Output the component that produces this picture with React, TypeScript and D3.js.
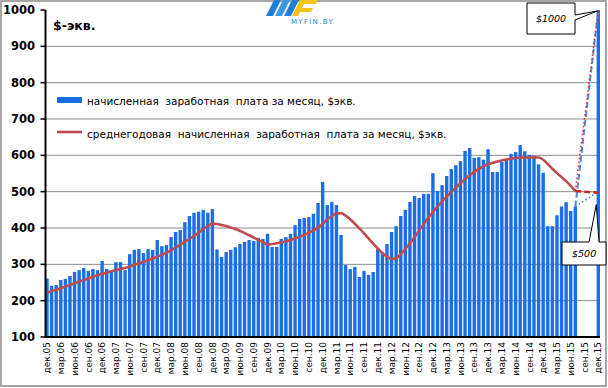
import React from 'react';
import * as d3 from 'd3';

const W = 608;
const H = 388;

// monthly average accrued wage, $ equivalent, index 0 = Dec 2005
const wage = [
  261, 241, 243, 257, 260, 268, 279, 284, 290, 282, 287, 284,
  309, 287, 282, 306, 306, 284, 328, 340, 342, 331, 342, 340,
  367, 350, 353, 375, 389, 394, 416, 433, 442, 445, 450, 442,
  452, 341, 320, 334, 340, 347, 356, 362, 367, 364, 373, 370,
  384, 348, 348, 370, 375, 384, 408, 425, 428, 430, 439, 469,
  527, 463, 472, 463, 381, 298, 287, 293, 265, 282, 271, 279,
  342, 333, 356, 389, 405, 433, 450, 472, 488, 483, 494, 494,
  551, 502, 518, 543, 562, 573, 584, 612, 620, 593, 595, 588,
  617, 554, 554, 582, 590, 604, 609, 628, 611, 601, 599, 575,
  552, 405, 405, 435, 459, 471, 447, 459,
];
const targetIndex = 120;
const targetWage = 1000;

// 12-month average line at these month indices
const avgIdx = [0, 2, 5, 8, 11, 14, 17, 20, 23, 26, 29, 32, 35, 36, 37, 38, 41, 44, 47, 48, 50, 53, 56, 59, 62, 63, 64, 65, 68, 71, 74, 75, 76, 77, 80, 83, 86, 89, 92, 95, 98, 101, 104, 107, 108, 109, 110, 111, 112, 113, 114, 115];
const avgVal = [222, 230, 243, 257, 270, 281, 290, 303, 316, 332, 354, 378, 405, 412, 411, 408, 397, 380, 361, 355, 358, 367, 381, 401, 433, 440, 441, 434, 399, 357, 321, 315, 317, 328, 375, 428, 473, 511, 545, 570, 583, 591, 594, 594, 588, 576, 563, 551, 540, 529, 516, 502];

// projections
const projStart = 115;
const projWageEnd = [1000, 500];
const projAvgEnd = [1000, 497];

const yTicks = [100, 200, 300, 400, 500, 600, 700, 800, 900, 1000];
const gridValues = [200, 300, 400, 500, 600, 700, 800, 900];
const xLabels = ['дек.05', 'мар.06', 'июн.06', 'сен.06', 'дек.06', 'мар.07', 'июн.07', 'сен.07', 'дек.07', 'мар.08', 'июн.08', 'сен.08', 'дек.08', 'мар.09', 'июн.09', 'сен.09', 'дек.09', 'мар.10', 'июн.10', 'сен.10', 'дек.10', 'мар.11', 'июн.11', 'сен.11', 'дек.11', 'мар.12', 'июн.12', 'сен.12', 'дек.12', 'мар.13', 'июн.13', 'сен.13', 'дек.13', 'мар.14', 'июн.14', 'сен.14', 'дек.14', 'мар.15', 'июн.15', 'сен.15', 'дек.15'];

const legend1 = 'начисленная  заработная  плата за месяц, $экв.';
const legend2 = 'среднегодовая  начисленная  заработная  плата за месяц, $экв.';

const BAR = '#1a6fe6';
const RED = '#bf4b4f';

export default function App() {
  const x = d3.scaleLinear().domain([0, 120]).range([47, 598.3]);
  const y = d3.scaleLinear().domain([100, 1000]).range([337, 10]);
  const bw = 3.4;
  const plotL = 45.5;
  const plotR = 600;

  const avgLine = d3
    .line<number>()
    .x((_, i) => x(avgIdx[i]))
    .y((d) => y(d))
    .curve(d3.curveMonotoneX)(avgVal) as string;

  const seg = (a: [number, number], b: [number, number]) =>
    d3.line()([[x(a[0]), y(a[1])], [x(b[0]), y(b[1])]]) as string;

  const lastWage = wage[projStart];
  const lastAvg = avgVal[avgVal.length - 1];
  const font = "'DejaVu Sans', Verdana, sans-serif";

  // callouts
  const c1 = { x0: 527, y0: 3, x1: 575, y1: 34 };
  const c2 = { x0: 562, y0: 242, x1: 606, y1: 265 };
  const tip1: [number, number] = [x(targetIndex) - 1, y(targetWage) + 1];
  const tip2: [number, number] = [x(targetIndex) - 2, y(projWageEnd[1]) + 13];

  return (
    <svg width={W} height={H} style={{ position: 'absolute', left: 0, top: 0, background: '#fff' }} fontFamily={font}>
      <rect x={0} y={0} width={W} height={H} fill="#fff" />
      <rect x={1} y={1} width={W - 3} height={H - 3} fill="none" stroke="#8a8a8a" strokeWidth={1.5} />

      {gridValues.map((v) => (
        <line key={v} x1={plotL} x2={plotR} y1={y(v)} y2={y(v)} stroke="#8c8c8c" strokeWidth={1} />
      ))}

      {wage.map((v, i) => (
        <rect key={i} x={x(i) - bw / 2} y={y(v)} width={bw} height={y(100) - y(v)} fill={BAR} />
      ))}
      <rect x={x(targetIndex) - bw / 2} y={y(targetWage)} width={bw} height={y(100) - y(targetWage)} fill={BAR} />

      <path d={avgLine} fill="none" stroke={RED} strokeWidth={2.6} strokeLinejoin="round" />

      {/* projections */}
      <path d={seg([projStart, lastWage], [targetIndex, projWageEnd[0]])} stroke="#4f8ad6" strokeWidth={2} strokeDasharray="6 3" fill="none" />
      <path d={seg([projStart, lastWage], [targetIndex, projWageEnd[1]])} stroke="#3b7bd8" strokeWidth={1.5} strokeDasharray="1.5 2.5" fill="none" />
      <path d={seg([projStart, lastAvg], [targetIndex, projAvgEnd[0]])} stroke="#e02828" strokeWidth={1.5} strokeDasharray="1.5 2.5" fill="none" />
      <path d={seg([projStart, lastAvg], [targetIndex, projAvgEnd[1]])} stroke="#d42020" strokeWidth={2.5} strokeDasharray="6 3" fill="none" />

      {/* axes */}
      <line x1={plotL} x2={plotL} y1={y(1000)} y2={y(100) + 1} stroke="#000" strokeWidth={2} />
      <line x1={plotL} x2={plotR} y1={y(100)} y2={y(100)} stroke="#000" strokeWidth={2} />
      {yTicks.map((v) => (
        <g key={v}>
          <line x1={plotL - 5} x2={plotL} y1={y(v)} y2={y(v)} stroke="#000" strokeWidth={1.5} />
          <text x={35} y={y(v)} dy="0.36em" textAnchor="end" fontSize={11.5} fontWeight="bold" fill="#000">
            {v}
          </text>
        </g>
      ))}
      {xLabels.map((t, k) => (
        <text
          key={t}
          transform={`translate(${x(k * 3)},${y(100) + 5}) rotate(-90)`}
          textAnchor="end"
          dy="0.35em"
          fontSize={9}
          fill="#000"
        >
          {t}
        </text>
      ))}

      {/* unit label */}
      <text x={53} y={30} fontSize={12.5} fontWeight="bold" fill="#000">$-экв.</text>

      {/* legend */}
      <rect x={57} y={97} width={25} height={6} fill={BAR} />
      <text x={87} y={104.5} fontSize={10.5} fill="#000" style={{ whiteSpace: 'pre' }}>{legend1}</text>
      <line x1={57} x2={82} y1={132} y2={132} stroke={RED} strokeWidth={2.6} />
      <text x={87} y={137.5} fontSize={10.5} fill="#000" style={{ whiteSpace: 'pre' }}>{legend2}</text>

      {/* logo */}
      <g>
        <polygon points="266,16 274,0 281,0 273,16" fill="#1f7fd6" />
        <polygon points="275,16 283,0 290,0 282,16" fill="#3a98e0" />
        <polygon points="284,16 292,0 299,0 291,16" fill="#1f7fd6" />
        <polygon points="292,16 300,0 318,0 316,4 304,4 302,8 313,8 311,12 300,12 298,16" fill="#f6c21c" />
        <text x={291} y={24} fontSize={7} fill="#2a7fd4" letterSpacing={1.3}>MYFIN.BY</text>
      </g>

      {/* callout $1000 */}
      <path
        d={`M${c1.x0},${c1.y0} H${c1.x1} V15 L${tip1[0]},${tip1[1]} L${c1.x1},20 V${c1.y1} H${c1.x0} Z`}
        fill="#fff"
        stroke="#000"
        strokeWidth={1}
      />
      <text x={(c1.x0 + c1.x1) / 2} y={(c1.y0 + c1.y1) / 2} dy="0.35em" textAnchor="middle" fontSize={9.5} fontStyle="italic" fill="#000">
        $1000
      </text>

      {/* callout $500 */}
      <path
        d={`M${c2.x0},${c2.y0} H589 L${tip2[0]},${tip2[1]} L599,${c2.y0} H${c2.x1} V${c2.y1} H${c2.x0} Z`}
        fill="#fff"
        stroke="#000"
        strokeWidth={1}
      />
      <text x={572} y={(c2.y0 + c2.y1) / 2} dy="0.35em" fontSize={9.5} fontStyle="italic" fill="#000">
        $500
      </text>
    </svg>
  );
}
